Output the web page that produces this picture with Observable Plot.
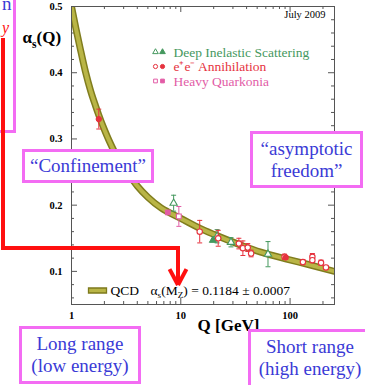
<!DOCTYPE html>
<html><head><meta charset="utf-8">
<script src="https://cdn.jsdelivr.net/npm/d3@7"></script>
<script src="https://cdn.jsdelivr.net/npm/@observablehq/plot@0.6"></script>
<style>
html,body{margin:0;padding:0;background:#fff;}
#fig{position:relative;width:365px;height:385px;overflow:hidden;background:#fff;font-family:"Liberation Serif","Times New Roman",serif;}
#chart{position:absolute;left:0;top:0;}
.box{position:absolute;box-sizing:border-box;border:3px solid #f36cf3;background:#fff;color:#3a3ad6;font-size:19px;line-height:22px;text-align:center;white-space:nowrap;}
.red{position:absolute;background:#ff1010;}
.frag{position:absolute;line-height:1;white-space:nowrap;}
</style></head>
<body>
<div id="fig">
  <div id="chart"></div>
  <div class="box" style="left:-10px;top:-10px;width:26px;height:143px;"></div>
  <div class="frag" style="left:2px;top:-6px;font-size:19px;color:#3a3ad6;">n</div>
  <div class="frag" style="left:2px;top:20px;font-size:16px;color:#ff1010;font-style:italic;">y</div>
  <div class="red" style="left:1px;top:38px;width:4px;height:212px;"></div>
  <div class="red" style="left:1px;top:246px;width:179px;height:4px;"></div>
  <div class="red" style="left:176px;top:246px;width:4px;height:36px;"></div>
  <div class="red" style="left:176px;top:267px;width:4px;height:18px;transform-origin:50% 100%;transform:rotate(-28deg);"></div>
  <div class="red" style="left:176px;top:267px;width:4px;height:18px;transform-origin:50% 100%;transform:rotate(28deg);"></div>
  <div class="box" style="left:22px;top:149px;width:132px;height:34px;line-height:28px;">“Confinement”</div>
  <div class="box" style="left:250px;top:131px;width:113px;height:57px;padding-top:4px;">“asymptotic<br>freedom”</div>
  <div class="box" style="left:19px;top:326px;width:122px;height:58px;padding-top:4px;">Long range<br>(low energy)</div>
  <div class="box" style="left:248px;top:329px;width:124px;height:70px;padding-top:4px;">Short range<br>(high energy)</div>
</div>
<script>
// ---- data ----
const curveQ = [1, 1.1, 1.2, 1.34, 1.5, 1.66, 1.777, 2, 2.2, 2.5, 3, 3.63, 4, 5, 6.6, 7.6, 10, 15, 20, 35, 54, 91, 150, 255];
const curveA = [0.500, 0.466, 0.437, 0.402, 0.372, 0.350, 0.336, 0.314, 0.298, 0.279, 0.257, 0.238, 0.229, 0.212, 0.196, 0.190, 0.180, 0.165, 0.156, 0.140, 0.129, 0.119, 0.110, 0.100];

const disQ = [8.6, 19.7, 21.5, 28.8, 62.8];
const disA = [0.203, 0.147, 0.153, 0.144, 0.126];
const disErr = [0.012, 0, 0.010, 0.007, 0.019];
const disFilled = [false, true, false, false, false];

const eeQ = [1.777, 14.9, 22, 34, 37, 41, 44, 89, 91.2, 131, 160, 160, 192, 213];
const eeA = [0.330, 0.160, 0.150, 0.142, 0.135, 0.136, 0.127, 0.122, 0.121, 0.114, 0.122, 0.117, 0.113, 0.106];
const eeErr = [0.015, 0.017, 0.012, 0.008, 0.011, 0.006, 0.005, 0.004, 0.003, 0.004, 0.005, 0.004, 0.004, 0.003];
const eeFilled = [true, false, false, false, false, false, false, false, true, false, false, false, false, false];

const hqQ = [7.6, 9.6];
const hqA = [0.189, 0.183];
const hqErr = [0, 0.015];
const hqFilled = [true, false];

const xMajor = [1, 10, 100];
const xMinor = [2, 3, 4, 5, 6, 7, 8, 9, 20, 30, 40, 50, 60, 70, 80, 90, 200];
const yMajor = [0.1, 0.2, 0.3, 0.4, 0.5];
const yMinor = [0.06, 0.08, 0.12, 0.14, 0.16, 0.18, 0.22, 0.24, 0.26, 0.28, 0.32, 0.34, 0.36, 0.38, 0.42, 0.44, 0.46, 0.48];

const legendLabels = ["Deep Inelastic Scattering", "e⁺e⁻ Annihilation", "Heavy Quarkonia"];
const qcdLabel = "QCD";
const qcdValue = "α_s(M_Z) = 0.1184 ± 0.0007";
const dateLabel = "July 2009";
const yLabel = "α_s(Q)";
const xLabel = "Q [GeV]";

// ---- build ----
const sets = [
  {name: "DIS", Q: disQ, A: disA, E: disErr, F: disFilled, color: "#45985e", symbol: "triangle"},
  {name: "EE", Q: eeQ, A: eeA, E: eeErr, F: eeFilled, color: "#e6323e", symbol: "circle"},
  {name: "HQ", Q: hqQ, A: hqA, E: hqErr, F: hqFilled, color: "#e25ca6", symbol: "square"}
];
const curve = curveQ.map((q, i) => ({Q: q, a: curveA[i]}));

const W = 365, H = 340, ML = 71, MR = 31, MT = 6, MB = 36;
const FW = W - ML - MR, FH = H - MT - MB;
const axisColor = "#555";
const serif = "Liberation Serif, Times New Roman, serif";
const capSym = {draw(ctx) { ctx.moveTo(-2.5, 0); ctx.lineTo(2.5, 0); }};
const swatchSym = {draw(ctx) { ctx.rect(-9, -2.5, 18, 5); }};

const marks = [
  Plot.tickX(xMajor, {x: d => d, insetTop: FH - 6, stroke: axisColor}),
  Plot.tickX(xMajor, {x: d => d, insetBottom: FH - 6, stroke: axisColor}),
  Plot.tickX(xMinor, {x: d => d, insetTop: FH - 3, stroke: axisColor}),
  Plot.tickX(xMinor, {x: d => d, insetBottom: FH - 3, stroke: axisColor}),
  Plot.tickY(yMajor, {y: d => d, insetRight: FW - 6, stroke: axisColor}),
  Plot.tickY(yMajor, {y: d => d, insetLeft: FW - 6, stroke: axisColor}),
  Plot.tickY(yMinor, {y: d => d, insetRight: FW - 3, stroke: axisColor}),
  Plot.tickY(yMinor, {y: d => d, insetLeft: FW - 3, stroke: axisColor}),
  Plot.line(curve, {x: "Q", y: "a", stroke: "#807d1e", strokeWidth: 7, curve: "monotone-x", clip: true}),
  Plot.line(curve, {x: "Q", y: "a", stroke: "#b9b546", strokeWidth: 4, curve: "monotone-x", clip: true})
];

for (const s of sets) {
  const pts = s.Q.map((q, i) => ({Q: q, a: s.A[i], e: s.E[i], f: s.F[i]}));
  const err = pts.filter(d => d.e > 0);
  marks.push(
    Plot.ruleX(err, {x: "Q", y1: d => d.a - d.e, y2: d => d.a + d.e, stroke: s.color, strokeWidth: 1}),
    Plot.dot(err, {x: "Q", y: d => d.a + d.e, symbol: capSym, stroke: s.color, strokeWidth: 1}),
    Plot.dot(err, {x: "Q", y: d => d.a - d.e, symbol: capSym, stroke: s.color, strokeWidth: 1}),
    Plot.dot(pts.filter(d => !d.f), {x: "Q", y: "a", symbol: s.symbol, r: 2.7, stroke: s.color, fill: "white", strokeWidth: 1.1}),
    Plot.dot(pts.filter(d => d.f), {x: "Q", y: "a", symbol: s.symbol, r: 2.7, stroke: s.color, fill: s.color, strokeWidth: 1})
  );
}

marks.push(Plot.frame({stroke: axisColor}));

// tick labels and titles
marks.push(
  Plot.text(yMajor, {y: d => d, text: d => d.toFixed(1), frameAnchor: "left", textAnchor: "end", dx: -9, fontWeight: "bold", fontSize: 10.5, fontFamily: serif, lineAnchor: "middle"}),
  Plot.text(xMajor, {x: d => d, text: d => String(d), frameAnchor: "bottom", dy: 14, lineAnchor: "bottom", fontWeight: "bold", fontSize: 10.5, fontFamily: serif}),
  Plot.text([xLabel], {text: d => d, frameAnchor: "bottom", dx: 25.5, dy: 26, lineAnchor: "bottom", fontWeight: "bold", fontSize: 17, fontFamily: serif}),
  Plot.text([yLabel], {text: d => d, frameAnchor: "top-left", textAnchor: "start", dx: -49, dy: 36.5, lineAnchor: "bottom", fontWeight: "bold", fontSize: 17, fontFamily: serif}),
  Plot.text([dateLabel], {text: d => d, frameAnchor: "top-right", textAnchor: "end", dx: -9, dy: 11.5, lineAnchor: "bottom", fontSize: 10.5, fontFamily: serif})
);

// legend (top)
sets.forEach((s, i) => {
  const dyText = 50 + 14.5 * i, dyMark = 45.5 + 14.5 * i;
  marks.push(
    Plot.dot([0], {frameAnchor: "top-left", dx: 84, dy: dyMark, symbol: s.symbol, r: 2.1, stroke: s.color, fill: "white", strokeWidth: 1}),
    Plot.dot([0], {frameAnchor: "top-left", dx: 91, dy: dyMark, symbol: s.symbol, r: 2.1, stroke: s.color, fill: s.color, strokeWidth: 1}),
    Plot.text([legendLabels[i]], {text: d => d, frameAnchor: "top-left", textAnchor: "start", dx: 102, dy: dyText, lineAnchor: "bottom", fill: s.color, fontSize: 13.5, fontFamily: serif})
  );
});

// legend (bottom, QCD)
marks.push(
  Plot.dot([0], {frameAnchor: "bottom-left", dx: 26, dy: -14, symbol: swatchSym, fill: "#b9b546", stroke: "#7d7a1c", strokeWidth: 1.3}),
  Plot.text([qcdLabel], {text: d => d, frameAnchor: "bottom-left", textAnchor: "start", dx: 39, dy: -10, lineAnchor: "bottom", fontSize: 13.5, fontFamily: serif}),
  Plot.text([qcdValue], {text: d => d, frameAnchor: "bottom-left", textAnchor: "start", dx: 79, dy: -10, lineAnchor: "bottom", fontSize: 13.5, fontFamily: serif})
);

const chart = Plot.plot({
  width: W, height: H,
  marginLeft: ML, marginRight: MR, marginTop: MT, marginBottom: MB,
  x: {type: "log", domain: [1, 255], axis: null},
  y: {domain: [0.05, 0.5], axis: null},
  style: {fontFamily: serif, fontSize: "11px", background: "transparent", overflow: "visible"},
  marks
});
document.getElementById("chart").appendChild(chart);

// subscripts
function richify(svg) {
  svg.querySelectorAll("text").forEach(t => {
    const s = t.textContent;
    if (!/_/.test(s)) return;
    const fs = parseFloat(getComputedStyle(t).fontSize) || 12;
    t.textContent = "";
    let shift = 0;
    s.split(/(_.)/).forEach(p => {
      if (!p) return;
      const ts = document.createElementNS("http://www.w3.org/2000/svg", "tspan");
      let target = 0, small = false, txt = p;
      if (p.length === 2 && p[0] === "_") { target = 0.28 * fs; small = true; txt = p[1]; }
      ts.setAttribute("dy", (target - shift).toFixed(2));
      shift = target;
      if (small) ts.setAttribute("font-size", (0.68 * fs).toFixed(1));
      ts.textContent = txt;
      t.appendChild(ts);
    });
  });
}
richify(chart);
</script>
</body></html>
